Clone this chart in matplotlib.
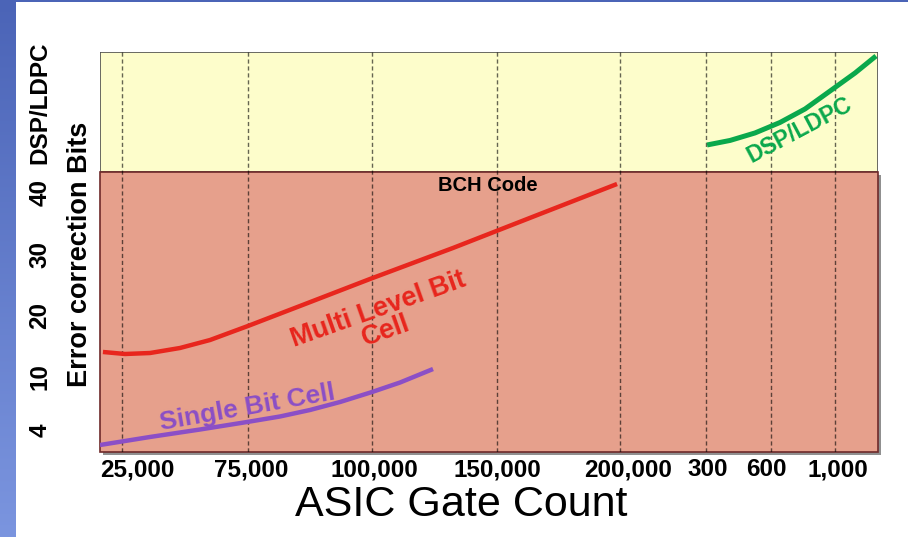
import numpy as np
import matplotlib
matplotlib.use("Agg")
import matplotlib.pyplot as plt
from matplotlib.patches import Rectangle
import matplotlib.patheffects as pe

plt.rcParams['font.family'] = ['Liberation Sans', 'DejaVu Sans']

# x axis is a slot scale: one unit per gate-count column on the BCH side
gate_labels = ["25,000", "75,000", "100,000", "150,000", "200,000", "300", "600", "1,000"]
gate_grid = [0.0, 1.012, 2.008, 3.012, 4.0, 4.691, 5.213, 5.727]
gate_label_pos = [0.12, 1.036, 2.024, 3.012, 4.064, 4.707, 5.173, 5.751]

bits_labels = ["4", "10", "20", "30", "40", "DSP/LDPC"]
bits_pos = [1.36, 10, 20, 30, 40, 54.7]

bch_top = 43.43   # top of the BCH band, DSP/LDPC above

# Multi Level Bit Cell curve
mlc_x = [-0.153, 0.024, 0.225, 0.466, 0.707, 1.012, 1.43, 1.992, 2.659, 3.317, 3.976]
mlc_y = [14.08, 13.75, 13.91, 14.73, 16.03, 18.32, 21.58, 25.98, 31.04, 36.26, 41.47]

# Single Bit Cell curve
sbc_x = [-0.177, 0.225, 0.627, 1.004, 1.269, 1.51, 1.751, 2.008, 2.233, 2.498]
sbc_y = [-1.09, 0.22, 1.44, 2.66, 3.56, 4.62, 5.92, 7.55, 9.1, 11.3]

# DSP/LDPC curve
dsp_x = [4.699, 4.884, 5.084, 5.285, 5.486, 5.687, 5.888, 6.056]
dsp_y = [47.83, 48.57, 49.79, 51.5, 53.7, 56.63, 59.57, 62.34]

fig = plt.figure(figsize=(9.08, 5.37), dpi=100)
fig.patch.set_facecolor("white")

# blue slide border on the left and top
strip = fig.add_axes([0, 0, 16 / 908, 1])
grad = np.linspace(0, 1, 256).reshape(-1, 1)
cmap = matplotlib.colors.LinearSegmentedColormap.from_list("edge", ["#4b64b7", "#7b95df"])
strip.imshow(grad, aspect="auto", cmap=cmap)
strip.axis("off")
fig.patches.append(Rectangle((0, 1 - 2 / 537), 1, 2 / 537, transform=fig.transFigure,
                             facecolor="#4b64b7", edgecolor="none"))

ax = fig.add_axes([100 / 908, 85 / 537, 778 / 908, 400 / 537])
ax.set_xlim(-0.1767, 6.072)
ax.set_ylim(-2.23, 62.99)
for s in ax.spines.values():
    s.set_visible(False)

# background bands
ax.add_patch(Rectangle((-0.1767, bch_top), 6.2487, 62.99 - bch_top, facecolor="#fdfdcb",
                       edgecolor="#505050", linewidth=1.2, zorder=0))
ax.add_patch(Rectangle((-0.1767, -2.23), 6.2487, bch_top + 2.23, facecolor="#e6a08c",
                       edgecolor="#6e2a2a", linewidth=1.2, zorder=0, clip_on=False,
                       path_effects=[pe.SimplePatchShadow(offset=(2, -2), shadow_rgbFace="#909090", alpha=1.0),
                                     pe.Normal()]))

for gx in gate_grid:
    ax.axvline(gx, color="black", alpha=0.6, linewidth=1.0, linestyle=(0, (3, 2)), zorder=1)

ax.plot(mlc_x, mlc_y, color="#e8261d", linewidth=3.2, solid_capstyle="butt",
        solid_joinstyle="round", zorder=3)
ax.plot(sbc_x, sbc_y, color="#8b4fc6", linewidth=3.2, solid_capstyle="butt",
        solid_joinstyle="round", zorder=3)
ax.plot(dsp_x, dsp_y, color="#0aa84c", linewidth=3.6, solid_capstyle="butt",
        solid_joinstyle="round", zorder=3, clip_on=False)

ax.text(2.94, 41.3, "BCH Code", fontsize=14.5, fontweight="bold", color="black",
        ha="center", va="center")
ax.text(2.09, 19.2, "Multi Level Bit\nCell", fontsize=19.5, fontweight="bold", color="#e8261d",
        ha="center", va="center", multialignment="center", rotation=19.5,
        rotation_mode="anchor", linespacing=0.85)
ax.text(1.01, 5.0, "Single Bit Cell", fontsize=19, fontweight="bold", color="#8b4fc6",
        ha="center", va="center", rotation=10, rotation_mode="anchor")
ax.text(5.445, 50.3, "DSP/LDPC", fontsize=16.5, fontweight="bold", color="#0aa84c",
        ha="center", va="center", rotation=28, rotation_mode="anchor")

ax.set_xticks(gate_label_pos, gate_labels)
ax.set_yticks(bits_pos, bits_labels, rotation=90, va="center")
ax.tick_params(axis="x", length=0, pad=4.5, labelsize=17.5)
ax.tick_params(axis="y", length=0, pad=35, labelsize=17.5)
for lab in ax.get_xticklabels() + ax.get_yticklabels():
    lab.set_fontweight("bold")

ax.set_xlabel("ASIC Gate Count", fontsize=31, va="center")
ax.xaxis.set_label_coords(0.464, -0.1325)
ax.set_ylabel("Error correction Bits", fontsize=19.5, fontweight="bold", va="center")
ax.yaxis.set_label_coords(-0.026, 0.495)

fig.savefig("out.png", dpi=100)
